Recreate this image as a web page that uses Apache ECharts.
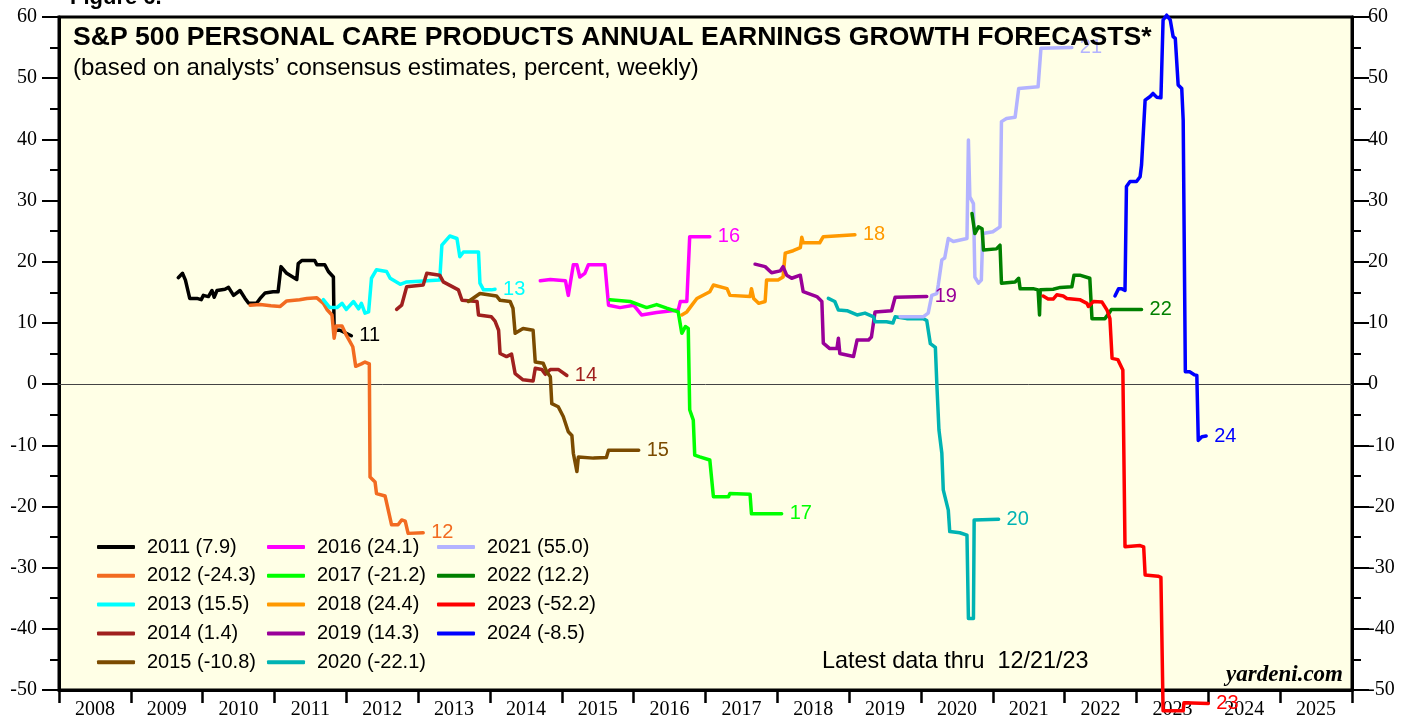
<!DOCTYPE html>
<html>
<head>
<meta charset="utf-8">
<script src="https://cdn.jsdelivr.net/npm/echarts@6/dist/echarts.min.js"></script>
<style>
html,body{margin:0;padding:0;background:#fff;}
#chart{width:1406px;height:721px;}
</style>
</head>
<body>
<div id="chart"></div>
<script>
// ---------- DATA ----------
const xYearLabels = ['2008','2009','2010','2011','2012','2013','2014','2015','2016','2017','2018','2019','2020','2021','2022','2023','2024','2025'];
const forecastYears = ['2011','2012','2013','2014','2015','2016','2017','2018','2019','2020','2021','2022','2023','2024'];
const finalValues = ['7.9','-24.3','15.5','1.4','-10.8','24.1','-21.2','24.4','14.3','-22.1','55.0','12.2','-52.2','-8.5'];
const endTags = ['11','12','13','14','15','16','17','18','19','20','21','22','23','24'];

const s2011 = [[2009.66,17.4],[2009.72,18.1],[2009.76,17.0],[2009.82,14.0],[2009.92,14.0],[2009.98,13.8],[2010.01,14.5],[2010.08,14.3],[2010.13,15.3],[2010.16,14.2],[2010.20,15.3],[2010.31,15.5],[2010.36,15.8],[2010.43,14.5],[2010.52,15.3],[2010.59,14.0],[2010.64,13.2],[2010.75,13.2],[2010.80,14.0],[2010.87,14.9],[2010.98,15.1],[2011.05,15.1],[2011.09,19.2],[2011.17,18.1],[2011.31,17.1],[2011.33,19.7],[2011.38,20.2],[2011.56,20.2],[2011.59,19.5],[2011.70,19.5],[2011.75,18.4],[2011.82,17.5],[2011.83,8.8],[2011.91,8.8],[2012.07,7.9]];
const s2012 = [[2010.66,12.9],[2010.80,13.0],[2010.95,12.8],[2011.08,12.7],[2011.17,13.6],[2011.35,13.8],[2011.45,14.0],[2011.59,14.1],[2011.68,13.2],[2011.73,12.2],[2011.80,11.3],[2011.83,7.5],[2011.86,9.5],[2011.94,9.5],[2012.00,8.0],[2012.09,6.1],[2012.13,2.9],[2012.21,3.3],[2012.26,3.6],[2012.32,3.3],[2012.33,-15.2],[2012.40,-16.0],[2012.42,-17.9],[2012.54,-18.3],[2012.63,-23.0],[2012.72,-23.0],[2012.77,-22.2],[2012.82,-22.4],[2012.86,-24.4],[2013.07,-24.3]];
const s2013 = [[2011.68,13.8],[2011.77,12.5],[2011.87,12.5],[2011.94,13.2],[2012.00,12.2],[2012.10,13.5],[2012.17,12.3],[2012.21,13.2],[2012.26,11.6],[2012.31,11.8],[2012.35,17.3],[2012.42,18.7],[2012.56,18.4],[2012.61,17.3],[2012.75,16.3],[2012.84,16.7],[2013.30,17.0],[2013.33,22.7],[2013.44,24.2],[2013.54,23.8],[2013.58,20.8],[2013.63,21.6],[2013.84,21.6],[2013.86,16.5],[2013.91,15.4],[2014.02,15.4],[2014.07,15.5]];
const s2014 = [[2012.70,12.2],[2012.77,12.9],[2012.84,15.9],[2013.07,16.2],[2013.12,18.1],[2013.30,17.8],[2013.35,16.7],[2013.56,15.4],[2013.61,13.7],[2013.82,13.5],[2013.84,11.3],[2014.02,11.0],[2014.07,10.3],[2014.12,8.8],[2014.14,5.0],[2014.23,4.5],[2014.30,4.9],[2014.35,1.7],[2014.46,0.7],[2014.60,0.5],[2014.63,2.6],[2014.72,2.4],[2014.77,1.6],[2014.84,2.4],[2014.95,2.4],[2015.07,1.4]];
const s2015 = [[2013.70,13.5],[2013.86,14.8],[2014.09,14.4],[2014.14,13.7],[2014.28,13.5],[2014.32,12.4],[2014.35,8.3],[2014.46,9.1],[2014.60,8.8],[2014.63,3.6],[2014.74,3.4],[2014.79,2.0],[2014.84,1.2],[2014.86,-3.2],[2014.95,-3.7],[2015.02,-5.3],[2015.09,-7.8],[2015.14,-8.4],[2015.16,-11.3],[2015.21,-14.3],[2015.23,-11.9],[2015.44,-12.1],[2015.62,-12.0],[2015.65,-10.8],[2016.07,-10.8]];
const s2016 = [[2014.70,16.9],[2014.84,17.1],[2015.05,16.9],[2015.09,14.5],[2015.16,19.5],[2015.21,19.5],[2015.25,17.5],[2015.32,18.1],[2015.37,19.5],[2015.60,19.5],[2015.65,12.9],[2015.81,12.5],[2016.00,12.9],[2016.11,11.3],[2016.32,11.7],[2016.62,12.1],[2016.65,13.5],[2016.74,13.5],[2016.78,24.1],[2017.06,24.1]];
const s2017 = [[2015.67,13.8],[2015.95,13.5],[2016.18,12.5],[2016.32,13.0],[2016.46,12.4],[2016.62,11.8],[2016.67,8.3],[2016.72,9.4],[2016.76,9.1],[2016.78,-4.2],[2016.83,-5.9],[2016.85,-11.6],[2016.92,-11.9],[2017.06,-12.4],[2017.11,-18.4],[2017.32,-18.4],[2017.34,-17.9],[2017.62,-18.0],[2017.64,-21.2],[2018.06,-21.2]];
const s2018 = [[2016.67,11.3],[2016.74,11.8],[2016.81,12.9],[2016.88,14.0],[2017.06,15.1],[2017.11,16.2],[2017.30,15.6],[2017.34,14.5],[2017.62,14.3],[2017.64,15.6],[2017.67,14.0],[2017.74,13.2],[2017.83,13.5],[2017.85,17.0],[2018.01,17.0],[2018.08,17.5],[2018.11,21.4],[2018.22,21.8],[2018.32,22.3],[2018.34,24.0],[2018.36,23.1],[2018.59,23.1],[2018.64,24.1],[2019.08,24.4]];
const s2019 = [[2017.69,19.6],[2017.83,19.2],[2017.92,18.2],[2018.04,18.5],[2018.08,19.2],[2018.13,17.8],[2018.20,17.3],[2018.32,17.8],[2018.36,15.1],[2018.55,14.3],[2018.62,13.5],[2018.64,6.7],[2018.73,5.8],[2018.83,5.8],[2018.85,7.5],[2018.87,5.0],[2019.06,4.5],[2019.11,7.2],[2019.27,7.2],[2019.31,7.7],[2019.36,11.8],[2019.59,12.0],[2019.64,14.2],[2020.08,14.3]];
const s2020 = [[2018.71,14.0],[2018.80,13.5],[2018.85,12.1],[2018.97,12.0],[2019.11,11.3],[2019.22,11.6],[2019.34,11.0],[2019.36,10.2],[2019.52,10.2],[2019.61,10.0],[2019.64,11.0],[2019.80,10.7],[2020.03,10.7],[2020.08,10.4],[2020.13,6.6],[2020.20,6.0],[2020.22,0.1],[2020.25,-7.5],[2020.29,-11.3],[2020.31,-17.3],[2020.38,-20.6],[2020.40,-24.1],[2020.54,-24.3],[2020.64,-24.7],[2020.66,-38.3],[2020.73,-38.3],[2020.74,-22.2],[2021.08,-22.1]];
const s2021 = [[2019.71,11.0],[2020.03,11.0],[2020.10,11.6],[2020.15,14.5],[2020.22,14.8],[2020.24,16.2],[2020.29,20.3],[2020.33,20.6],[2020.38,23.8],[2020.45,23.3],[2020.64,23.8],[2020.66,39.9],[2020.68,30.6],[2020.73,29.5],[2020.75,17.5],[2020.80,16.5],[2020.84,17.0],[2020.86,24.6],[2021.00,24.9],[2021.10,25.7],[2021.12,42.9],[2021.19,43.4],[2021.31,43.6],[2021.36,48.3],[2021.63,48.6],[2021.67,54.9],[2022.10,55.0]];
const s2022 = [[2020.71,27.9],[2020.75,24.6],[2020.80,25.7],[2020.85,25.4],[2020.87,21.9],[2021.05,22.1],[2021.10,22.7],[2021.12,16.5],[2021.31,16.7],[2021.36,17.3],[2021.38,15.6],[2021.56,15.6],[2021.63,15.4],[2021.65,11.3],[2021.66,15.4],[2021.84,15.5],[2021.94,15.8],[2022.10,15.9],[2022.13,17.8],[2022.21,17.8],[2022.35,17.3],[2022.38,10.7],[2022.56,10.7],[2022.63,11.8],[2022.65,12.2],[2023.07,12.2]];
const s2023 = [[2021.70,14.4],[2021.77,13.9],[2021.84,13.9],[2021.89,14.6],[2021.98,14.4],[2022.03,14.0],[2022.21,13.8],[2022.31,13.2],[2022.33,12.7],[2022.40,13.5],[2022.52,13.4],[2022.59,12.1],[2022.63,10.7],[2022.66,4.2],[2022.74,4.0],[2022.81,2.3],[2022.84,-26.6],[2023.05,-26.4],[2023.10,-26.6],[2023.12,-31.2],[2023.30,-31.4],[2023.34,-31.6],[2023.37,-53.4],[2023.65,-53.4],[2023.66,-52.1],[2024.00,-52.2]];
const s2024 = [[2022.70,14.4],[2022.75,15.6],[2022.79,15.6],[2022.84,15.3],[2022.86,32.3],[2022.91,33.1],[2023.00,33.1],[2023.02,32.8],[2023.05,33.9],[2023.07,35.8],[2023.12,46.4],[2023.19,47.0],[2023.23,47.5],[2023.28,46.9],[2023.34,46.8],[2023.37,59.5],[2023.42,60.3],[2023.47,59.5],[2023.51,56.8],[2023.54,56.5],[2023.58,48.9],[2023.63,48.3],[2023.65,43.1],[2023.68,2.0],[2023.74,2.0],[2023.81,1.5],[2023.84,1.4],[2023.86,-9.2],[2023.91,-8.6],[2023.97,-8.5]];

const seriesData = [s2011,s2012,s2013,s2014,s2015,s2016,s2017,s2018,s2019,s2020,s2021,s2022,s2023,s2024];

// ---------- STYLE ----------
const colors = ['#000000','#F26B21','#00FFFF','#A0201E','#7B4B00','#FF00FF','#00FF00','#FF9900','#990099','#00B3B3','#B3B3FF','#008000','#FF0000','#0000FF'];
const sansFont = 'Arial, "Liberation Sans", Helvetica, sans-serif';
const serifFont = '"Times New Roman", "Liberation Serif", Times, serif';

const names = forecastYears.map((y,i) => y + ' (' + finalValues[i] + ')');

const series = seriesData.map((d,i) => {
  const s = {
    name: names[i],
    type: 'line',
    data: d,
    symbol: 'none',
    clip: false,
    z: 3,
    lineStyle: {color: colors[i], width: 3.5, join: 'round', cap: 'round'},
    itemStyle: {color: colors[i]},
    endLabel: {
      show: true,
      formatter: endTags[i],
      color: colors[i],
      fontFamily: sansFont,
      fontSize: 20,
      distance: 8
    },
    emphasis: {disabled: true},
    silent: true
  };
  if (i === 0) {
    s.markLine = {
      silent: true,
      symbol: 'none',
      label: {show: false},
      lineStyle: {color: '#444', width: 1, type: 'solid'},
      data: [{yAxis: 0}],
      z: 1
    };
  }
  return s;
});

const legendBase = {
  orient: 'vertical',
  top: 536,
  padding: 0,
  icon: 'roundRect',
  itemWidth: 38,
  itemHeight: 4,
  itemGap: 6.8,
  selectedMode: false,
  textStyle: {fontFamily: sansFont, fontSize: 20, color: '#000', lineHeight: 22, padding: [0,0,0,7]}
};

const yAxisBase = {
  type: 'value',
  min: -50, max: 60, interval: 10,
  axisLine: {show: true, onZero: false, lineStyle: {color: '#000', width: 3}},
  axisTick: {show: true, length: 17, lineStyle: {color: '#000', width: 2}},
  minorTick: {show: true, splitNumber: 2, length: 9, lineStyle: {color: '#000', width: 2}},
  splitLine: {show: false},
  axisLabel: {fontFamily: serifFont, fontSize: 20, color: '#000'}
};

const chart = echarts.init(document.getElementById('chart'), null, {renderer: 'canvas'});
chart.setOption({
  animation: false,
  backgroundColor: '#ffffff',
  grid: {left: 59, right: 54, top: 17, bottom: 31, show: true, backgroundColor: '#FFFFE6', borderColor: '#000', borderWidth: 3},
  xAxis: [
    {
      type: 'value', min: 2008, max: 2026, interval: 1, position: 'bottom',
      axisLine: {show: true, onZero: false, lineStyle: {color: '#000', width: 3}},
      axisTick: {show: true, length: 13, lineStyle: {color: '#000', width: 2.5}},
      axisLabel: {show: false},
      splitLine: {show: false}
    },
    {
      type: 'category', data: xYearLabels, position: 'bottom', boundaryGap: true,
      axisLine: {show: false, onZero: false}, axisTick: {show: false}, splitLine: {show: false},
      axisLabel: {fontFamily: serifFont, fontSize: 20, color: '#000', margin: 10, interval: 0}
    }
  ],
  yAxis: [
    Object.assign({}, yAxisBase, {position: 'left', axisLabel: Object.assign({}, yAxisBase.axisLabel, {margin: 22})}),
    Object.assign({}, yAxisBase, {position: 'right', axisLabel: Object.assign({}, yAxisBase.axisLabel, {margin: 16})})
  ],
  legend: [
    Object.assign({}, legendBase, {left: 97, data: names.slice(0,5)}),
    Object.assign({}, legendBase, {left: 267, data: names.slice(5,10)}),
    Object.assign({}, legendBase, {left: 437, data: names.slice(10,14)})
  ],
  graphic: [
    {type: 'text', left: 70, top: -13, z: 100, style: {text: 'Figure 6.', font: 'bold 22px ' + sansFont, fill: '#000'}},
    {type: 'text', x: 73, y: 38, z: 100, style: {text: 'S&P 500 PERSONAL CARE PRODUCTS ANNUAL EARNINGS GROWTH FORECASTS*', font: 'bold 26.6px ' + sansFont, fill: '#000', verticalAlign: 'middle'}},
    {type: 'text', x: 73, y: 68, z: 100, style: {text: '(based on analysts\u2019 consensus estimates, percent, weekly)', font: '24px ' + sansFont, fill: '#000', verticalAlign: 'middle'}},
    {type: 'text', x: 822, y: 662, z: 100, style: {text: 'Latest data thru  12/21/23', font: '23.4px ' + sansFont, fill: '#000', verticalAlign: 'middle'}},
    {type: 'text', x: 1343, y: 675, z: 100, style: {text: 'yardeni.com', font: 'italic bold 23px ' + serifFont, fill: '#000', align: 'right', verticalAlign: 'middle'}}
  ],
  series: series
});
</script>
</body>
</html>
